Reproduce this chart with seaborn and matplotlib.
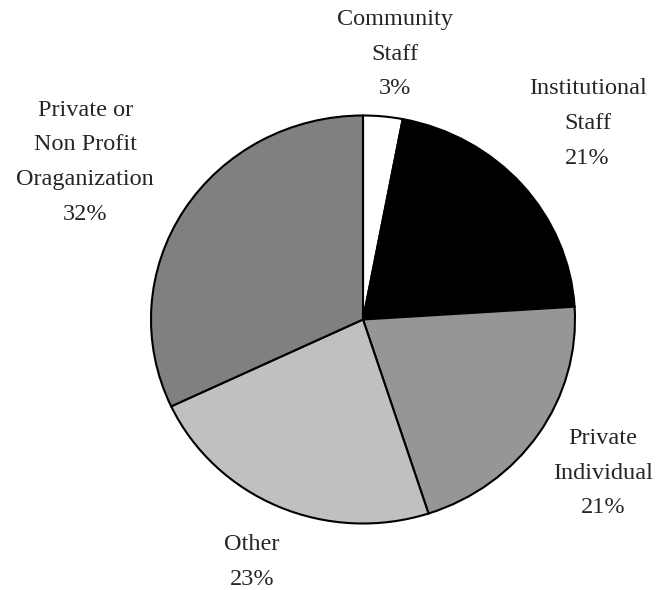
import seaborn as sns
import matplotlib.pyplot as plt
import numpy as np


sns.set_theme('paper', style='white')
plt.rcParams['font.family'] = ['Liberation Serif', 'DejaVu Serif']


categories = ['Community\nStaff', 'Institutional\nStaff', 'Private\nIndividual',
              'Other', 'Private or\nNon Profit\nOraganization']
shares = [3, 21, 21, 23, 32]
colors = ['#ffffff', '#000000', '#969696', '#c0c0c0', '#808080']

# label placement: distance in pie radii, and a small angle nudge in degrees
label_dist = [1.31, 1.43, 1.36, 1.30, 1.52]
label_turn = [-1.2, 0.8, 0.6, -0.4, 1.9]


fig = plt.figure(figsize=(6.56, 5.9), dpi=100)
ax = fig.add_axes([0, 0, 1, 1])

wedges, _ = ax.pie(shares, colors=colors, startangle=90, counterclock=False,
                   wedgeprops=dict(edgecolor='black', linewidth=1.5))

# pie is a touch wider than tall in the original
ax.set_aspect('auto')
rx, ry = 212, 204
cx, cy = 363, 590 - 319.5
ax.set_xlim(-cx / rx, (656 - cx) / rx)
ax.set_ylim(-cy / ry, (590 - cy) / ry)
ax.axis('off')

for w, name, val, d, t in zip(wedges, categories, shares, label_dist, label_turn):
    ang = np.deg2rad((w.theta1 + w.theta2) / 2 + t)
    ax.text(d * np.cos(ang), d * np.sin(ang), f'{name}\n{val}%',
            ha='center', va='center', fontsize=17.5, linespacing=1.85)

plt.savefig('out.png', dpi=100)
